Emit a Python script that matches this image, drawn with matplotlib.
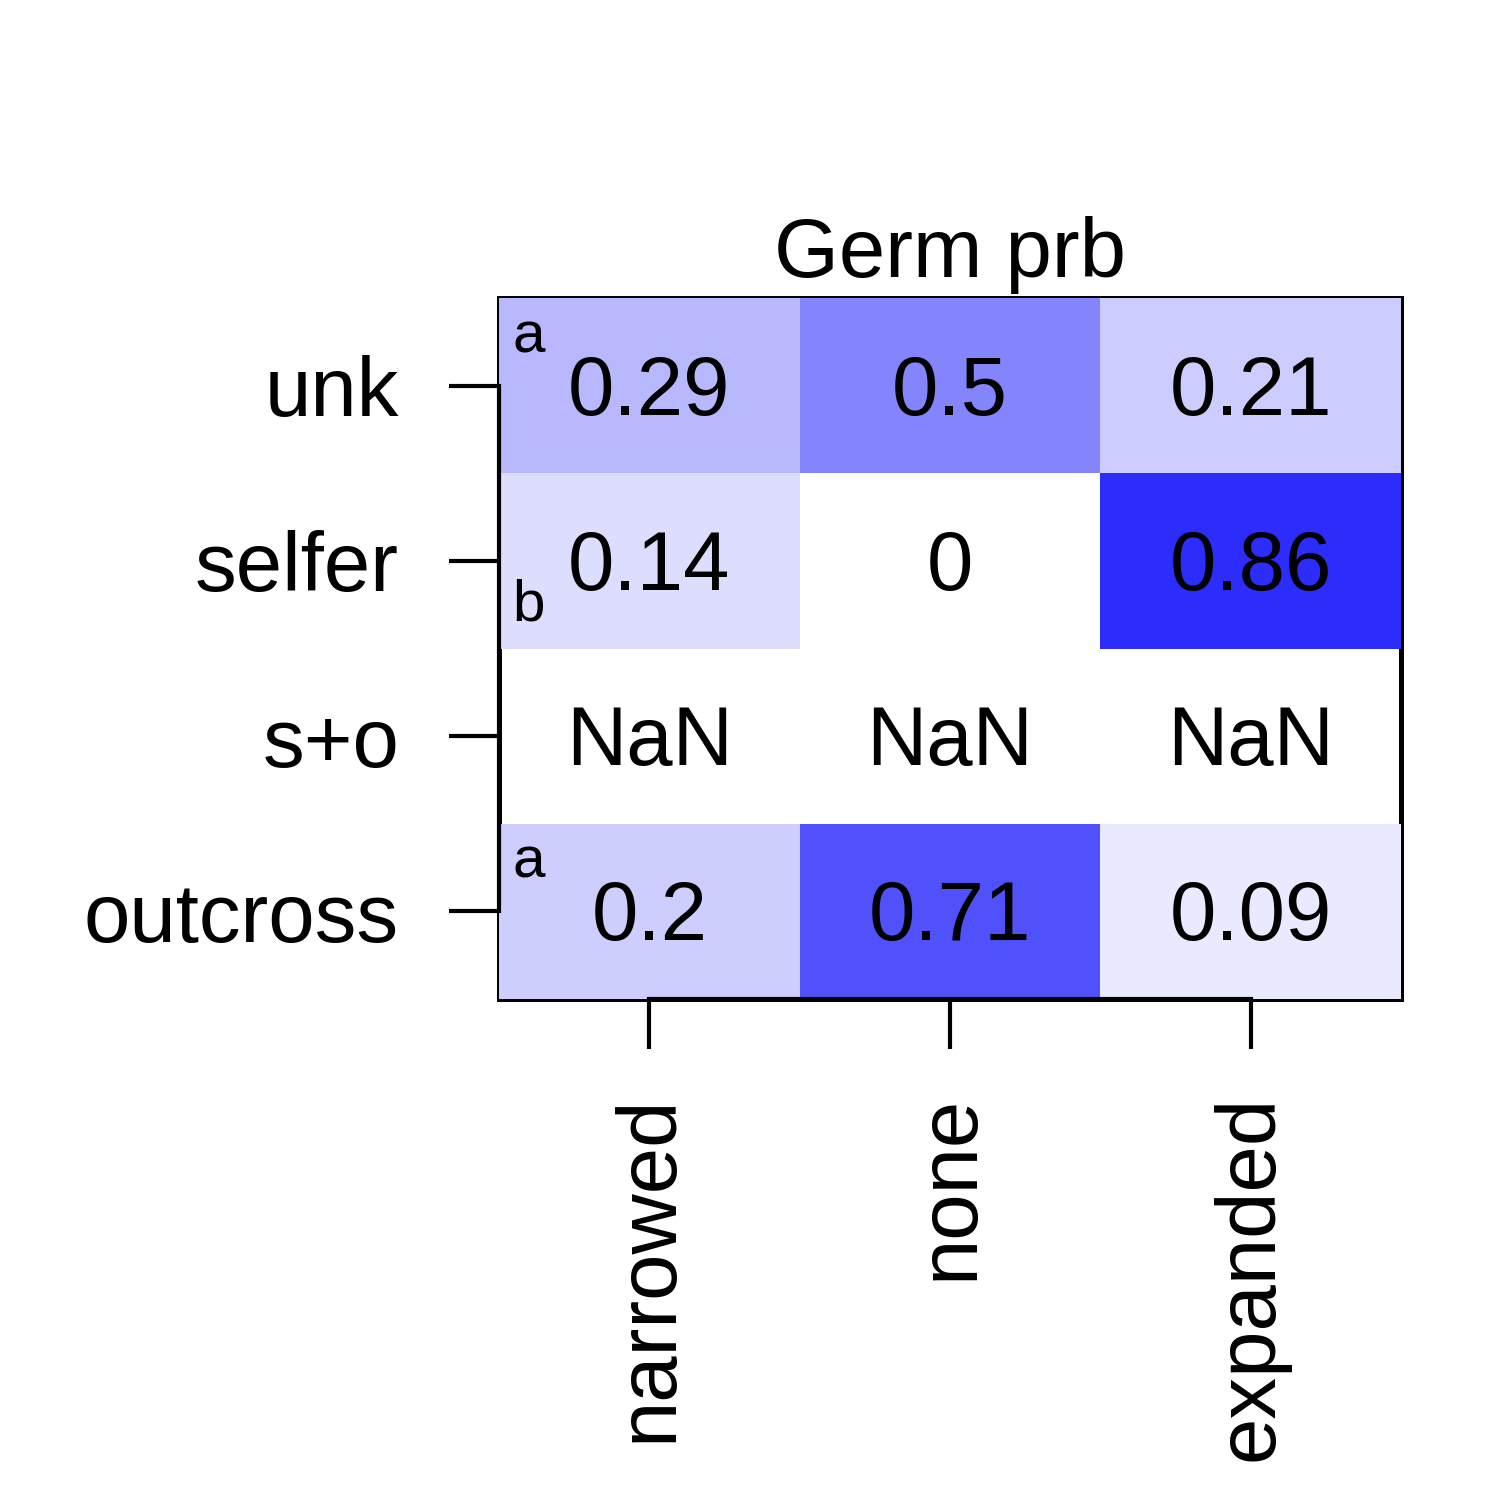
import numpy as np
import matplotlib
matplotlib.use('Agg')
import matplotlib.pyplot as plt
from matplotlib.colors import LinearSegmentedColormap
from matplotlib.patches import Rectangle

plt.rcParams['font.family'] = ['Liberation Sans', 'DejaVu Sans']

# data
rows = ['unk', 'selfer', 's+o', 'outcross']
cols = ['narrowed', 'none', 'expanded']
unk_vals = [0.29, 0.5, 0.21]
selfer_vals = [0.14, 0.0, 0.86]
so_vals = [np.nan, np.nan, np.nan]
outcross_vals = [0.2, 0.71, 0.09]
row_letters = ['a', 'b', '', 'a']
title = 'Germ prb'

vals = np.array([unk_vals, selfer_vals, so_vals, outcross_vals])

def fmt(v):
    if np.isnan(v):
        return 'NaN'
    return f'{round(v, 2):g}'

cmap = LinearSegmentedColormap.from_list('wb', ['#FFFFFF', '#0A0AFA'])

fig = plt.figure(figsize=(5, 5), dpi=300)
ax = fig.add_axes([0.3327, 0.334, 0.6013, 0.4673])

# row 0 (unk) at the top
ny, nx = vals.shape
ypos = np.arange(ny, 0, -1)
xpos = np.arange(1, nx + 1)
xe = np.arange(0.5, nx + 1)
ye = np.arange(ny + 0.5, 0, -1)
ax.pcolormesh(xe, ye, np.ma.masked_invalid(vals), cmap=cmap, vmin=0, vmax=1,
              shading='flat', zorder=1)

# thin frame under the cells
ax.add_patch(Rectangle((0, 0), 1, 1, transform=ax.transAxes, fill=False,
                       lw=1.2, ec='black', zorder=0.5, clip_on=False))

for i in range(ny):
    for j in range(nx):
        ax.text(xpos[j], ypos[i] - 0.04, fmt(vals[i, j]), ha='center', va='center',
                fontsize=20, zorder=3)

# significance letters
letter_dy = [0.19, -0.34, 0, 0.196]
for i, lt in enumerate(row_letters):
    if lt:
        ax.text(0.545, ypos[i] + letter_dy[i], lt, ha='left', va='baseline',
                fontsize=14, zorder=3)

ax.set_xlim(0.5, nx + 0.5)
ax.set_ylim(0.5, ny + 0.5)
for s in ['top', 'right']:
    ax.spines[s].set_visible(False)
ax.spines['left'].set_bounds(1, ny)
ax.spines['bottom'].set_bounds(1, nx)
ax.spines['left'].set_linewidth(1.0)
ax.spines['bottom'].set_linewidth(1.0)
ax.spines['left'].set_zorder(4)
ax.spines['bottom'].set_zorder(4)

ax.set_xticks(xpos)
ax.set_xticklabels(cols, rotation=90, fontsize=20)
ax.set_yticks(ypos)
ax.set_yticklabels(rows, fontsize=20)
ax.tick_params(axis='both', length=12, width=1.0, direction='out')
ax.tick_params(axis='x', pad=11)
ax.tick_params(axis='y', pad=12)

ax.set_title(title, fontsize=20, pad=5)

fig.savefig('out.png', dpi=300)
